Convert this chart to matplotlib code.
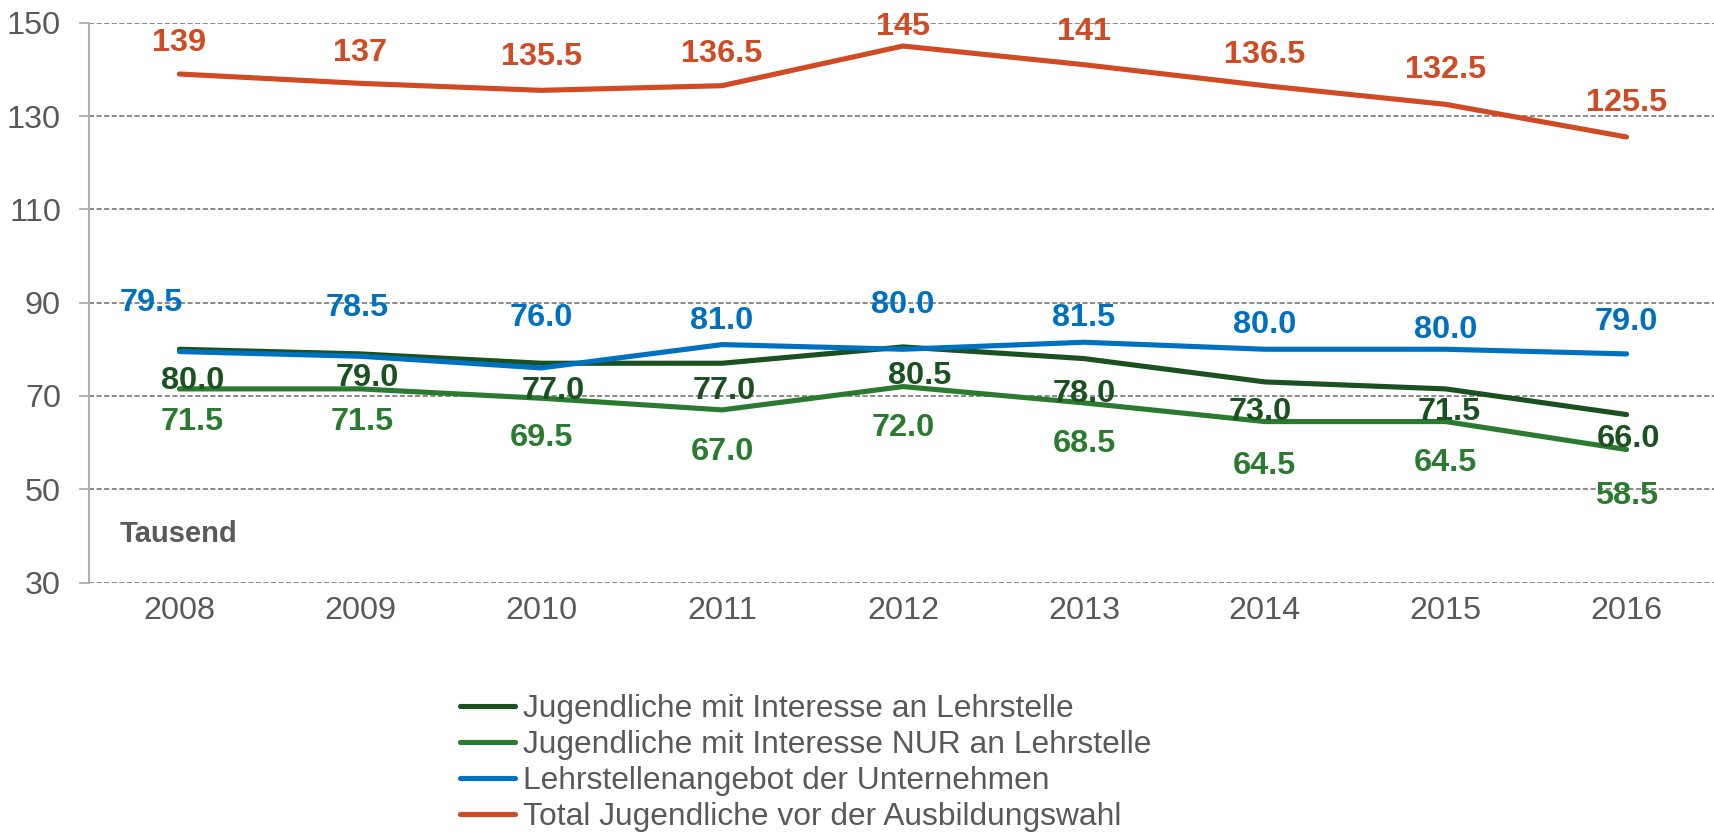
import matplotlib
matplotlib.use("Agg")
import matplotlib.pyplot as plt
from matplotlib.ticker import FixedLocator

plt.rcParams['font.family'] = ['Liberation Sans', 'DejaVu Sans']

# ---- data ----
years = ['2008', '2009', '2010', '2011', '2012', '2013', '2014', '2015', '2016']
interesse = [80.0, 79.0, 77.0, 77.0, 80.5, 78.0, 73.0, 71.5, 66.0]
nur_lehre = [71.5, 71.5, 69.5, 67.0, 72.0, 68.5, 64.5, 64.5, 58.5]
angebot = [79.5, 78.5, 76.0, 81.0, 80.0, 81.5, 80.0, 80.0, 79.0]
total = [139, 137, 135.5, 136.5, 145, 141, 136.5, 132.5, 125.5]
series_names = ['Jugendliche mit Interesse an Lehrstelle',
                'Jugendliche mit Interesse NUR an Lehrstelle',
                'Lehrstellenangebot der Unternehmen',
                'Total Jugendliche vor der Ausbildungswahl']
y_ticks = [30, 50, 70, 90, 110, 130, 150]

# ---- styles / label placement (points) ----
colors = ['#1b5020', '#2a7b30', '#0070c0', '#d04a23']
dx_lab = [
    [9.5, 4.7, 8.7, 1.6, 11.8, 0, -3.1, 2.4, 1.6],
    [9.5, 1.6, 0, 0, 0, 0, 0, 0, 0],
    [-20.5, -2.4, 0, 0, 0, 0, 0, 0, 0],
    [0, 0, 0, 0, 0, 0, 0, 0, 0],
]
dy_lab = [
    [-20.5, -14.6, -17.3, -17.3, -18.1, -22.8, -18.9, -13.9, -15],
    [-21, -21, -26, -27.9, -27.3, -27.4, -29.8, -27.4, -30.7],
    [37.8, 37, 38.6, 19.7, 34.6, 19.7, 19.7, 16.5, 25.6],
    [25, 24.7, 26.6, 25.6, 16, 26.2, 24.8, 27.2, 27.1],
]

W, H = 1715, 832
fig = plt.figure(figsize=(W / 100, H / 100), dpi=100)
ax = fig.add_axes([89 / W, 1 - 582.5 / H, (1717 - 89) / W, (582.5 - 22.7) / H])

x = list(range(len(years)))
all_series = [interesse, nur_lehre, angebot, total]
handles = []
for i, (vals, name) in enumerate(zip(all_series, series_names)):
    ln, = ax.plot(x, vals, color=colors[i], lw=3.7, solid_capstyle='round',
                  solid_joinstyle='round', label=name, zorder=3 + i)
    handles.append(ln)
    for j, v in enumerate(vals):
        if i == 3:
            txt = f"{v:g}" if float(v).is_integer() else f"{v:.1f}"
        else:
            txt = f"{v:.1f}"
        ax.annotate(txt, (j, v), xytext=(dx_lab[i][j], dy_lab[i][j]),
                    textcoords='offset points', ha='center', va='center_baseline',
                    fontsize=23.4, fontweight='bold', color=colors[i],
                    zorder=10, annotation_clip=False)

ax.set_xlim(-0.5, len(years) - 0.5)
ax.set_ylim(30, 150)
ax.set_xticks(x)
ax.set_xticklabels(years)
ax.yaxis.set_major_locator(FixedLocator(y_ticks))
ax.grid(axis='y', color='#808080', linestyle=(0, (2.8, 1.4)), linewidth=1.3, zorder=0)
for s in ['top', 'right', 'bottom']:
    ax.spines[s].set_visible(False)
ax.spines['left'].set_color('#b0b0b0')
ax.spines['left'].set_linewidth(1.5)
ax.tick_params(axis='x', length=0, pad=10, labelsize=23.3, labelcolor='#595959')
ax.tick_params(axis='y', length=7.2, width=1.3, color='#b0b0b0', pad=13,
               labelsize=23.3, labelcolor='#595959')

ax.text((120 - 89) / 1628, 0.0866, 'Tausend', transform=ax.transAxes, fontsize=21,
        fontweight='bold', color='#595959', va='center', ha='left')

fig.legend(handles=handles, loc='upper left',
           bbox_to_anchor=(460 / W, 1 - 694 / H), frameon=False,
           fontsize=22.9, handlelength=1.72, handletextpad=0.25,
           labelspacing=0.19, borderpad=0, borderaxespad=0,
           labelcolor='#595959')

fig.savefig('out.png', dpi=100)
